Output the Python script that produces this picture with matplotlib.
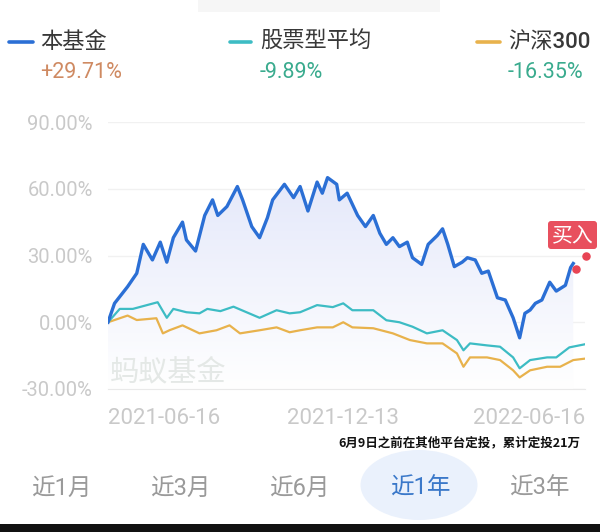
import numpy as np
import matplotlib
matplotlib.use("Agg")
import matplotlib.pyplot as plt
from matplotlib.patches import Ellipse, FancyBboxPatch, Rectangle
from matplotlib.colors import LinearSegmentedColormap

plt.rcParams['font.family'] = ['Roboto', 'Noto Sans CJK SC', 'DejaVu Sans']

# legend
SERIES_NAMES = ["本基金", "股票型平均", "沪深300"]
SERIES_RETURNS = ["+29.71%", "-9.89%", "-16.35%"]
SERIES_COLORS = ["#2b6fd5", "#3dbcc4", "#e8b24c"]
RETURN_COLORS = ["#cf8a62", "#3aab8e", "#3aab8e"]

# days since 2021-06-16, cumulative return in %
FUND_DAYS = [0, 5, 15, 22, 27, 34, 40, 45, 50, 57, 60, 67, 74, 80, 84, 91, 99,
             103, 110, 116, 122, 126, 135, 142, 147, 153, 160, 164, 168, 175,
             177, 183, 191, 197, 203, 208, 213, 218, 223, 229, 233, 240, 245,
             252, 256, 260, 265, 271, 275, 281, 286, 291, 298, 304, 310, 315,
             319, 323, 327, 332, 338, 343, 350, 354, 356]
FUND_VALUES = [0, 8.5, 16, 22, 35, 28, 36, 27, 38, 45, 37, 32, 48, 55, 48, 52,
               61, 55, 43, 38, 47, 55, 62, 56, 61, 50, 63, 58, 65, 62, 55, 58,
               48, 43, 48, 40, 35, 38, 34, 36, 29, 26, 35, 39, 42, 35, 25, 27,
               29, 28, 22, 23, 11, 10, 2, -7, 4, 5.5, 8.5, 10, 18, 14, 16.6,
               24.6, 26.4]

STOCK_DAYS = [0, 9, 19, 38, 45, 50, 60, 70, 76, 86, 96, 106, 116, 129, 139,
              147, 160, 172, 180, 187, 203, 213, 223, 233, 244, 256, 267, 272,
              277, 290, 300, 310, 315, 323, 336, 343, 353, 365]
STOCK_VALUES = [0, 6, 6, 9, 2, 6, 4.5, 4, 6, 5, 7, 4.5, 2, 5.4, 4, 4.5, 7.7,
                6.8, 8.5, 5.4, 5.4, 0.9, 0, -2, -5, -3.6, -8, -12.6, -9.5,
                -10.4, -11, -15.8, -20.7, -17, -15.8, -15.8, -11.3, -9.89]

HS300_DAYS = [0, 15, 22, 37, 42, 47, 57, 70, 83, 93, 101, 116, 129, 139, 147,
              160, 172, 180, 187, 203, 218, 231, 244, 256, 267, 272, 277, 290,
              300, 310, 315, 323, 336, 346, 356, 365]
HS300_VALUES = [0, 3, 1, 1.8, -5, -3.6, -1.4, -5, -3.6, -1.4, -5, -3.6, -2.3,
                -4.5, -3.6, -2.3, -2.3, 0, -2.3, -2.7, -5, -8, -9.5, -9.5, -14,
                -20, -15.8, -15.8, -17, -21.6, -24.8, -21.6, -20, -20, -17,
                -16.35]

BUY_DAYS = [358, 366]
BUY_VALUES = [24, 30]

Y_TICKS = [-30, 0, 30, 60, 90]
X_TICKS = [0, 180, 365]
X_LABELS = ["2021-06-16", "2021-12-13", "2022-06-16"]
TABS = ["近1月", "近3月", "近6月", "近1年", "近3年"]
ACTIVE_TAB = 3
NOTE = "6月9日之前在其他平台定投，累计定投21万"
WATERMARK = "蚂蚁基金"

fig = plt.figure(figsize=(6, 5.32), dpi=100)

# pixel-space overlay for the app chrome
bg = fig.add_axes([0, 0, 1, 1], zorder=0)
bg.set_xlim(0, 600)
bg.set_ylim(532, 0)
bg.axis("off")

bg.add_patch(Rectangle((198, 0), 242, 12, color="#f6f6f6", lw=0))

dash_x = [(9, 33), (230, 251), (477, 500)]
text_x = [40, 260, 508]
for i in range(3):
    bg.plot(dash_x[i], [42, 42], color=SERIES_COLORS[i], lw=2.6,
            solid_capstyle="round")
    bg.text(text_x[i], 42, SERIES_NAMES[i], fontsize=16, color="#383838",
            fontweight="medium", va="center", ha="left")
    bg.text(text_x[i], 72, SERIES_RETURNS[i], fontsize=15.5,
            color=RETURN_COLORS[i], va="center", ha="left")

bg.text(580, 443, NOTE, fontsize=9, color="#111111", fontweight="bold",
        va="center", ha="right", family="Noto Sans CJK SC")

tab_x = [61, 180, 299, 420, 539]
bg.add_patch(Ellipse((419, 485), 117, 70, color="#eaf1fc", lw=0))
for i, t in enumerate(TABS):
    bg.text(tab_x[i], 488, t, fontsize=17,
            color="#3a78c9" if i == ACTIVE_TAB else "#9a9a9a",
            va="center", ha="center")

bg.add_patch(Rectangle((0, 524), 600, 8, color="#111111", lw=0))

# buy tag
bg.add_patch(FancyBboxPatch((548, 221), 49, 28,
                            boxstyle="round,pad=0,rounding_size=3",
                            color="#e8505e", lw=0))
bg.text(572.5, 235, "买入", fontsize=15, color="white", va="center",
        ha="center", family="Noto Sans CJK SC")

# chart
ax = fig.add_axes([108 / 600, 1 - 389 / 532, 477 / 600, 267 / 532], zorder=1)
ax.patch.set_alpha(0)
ax.set_xlim(0, 365)
ax.set_ylim(-30, 90)

# gradient fill under the fund line
poly = ax.fill_between(FUND_DAYS, FUND_VALUES, -30, color="none", lw=0)
grad = np.linspace(0, 1, 256).reshape(-1, 1)
cmap = LinearSegmentedColormap.from_list("f", ["#ffffff", "#e4e8fa"])
img = ax.imshow(grad, cmap=cmap, aspect="auto", origin="lower",
                extent=[0, 365, -30, 66], zorder=1)
img.set_clip_path(poly.get_paths()[0], transform=ax.transData)

ax.plot(HS300_DAYS, HS300_VALUES, color=SERIES_COLORS[2], lw=1.6, zorder=3)
ax.plot(STOCK_DAYS, STOCK_VALUES, color=SERIES_COLORS[1], lw=1.6, zorder=3)
ax.plot(FUND_DAYS, FUND_VALUES, color=SERIES_COLORS[0], lw=2.4, zorder=4,
        solid_joinstyle="round")
ax.scatter(BUY_DAYS, BUY_VALUES, s=26, color="#e84454", zorder=5,
           clip_on=False)

ax.set_yticks(Y_TICKS)
ax.set_yticklabels([f"{v:.2f}%" for v in Y_TICKS])
ax.set_xticks(X_TICKS)
ax.set_xticklabels(X_LABELS)
xl = ax.get_xticklabels()
xl[0].set_ha("left")
xl[-1].set_ha("right")
ax.tick_params(axis="y", length=0, pad=11, labelsize=14.5,
               labelcolor="#c9c9c9")
ax.tick_params(axis="x", length=0, pad=14, labelsize=16,
               labelcolor="#c9c9c9")
ax.yaxis.grid(True, color="#f1f1f1", lw=1)
ax.set_axisbelow(True)
for s in ["top", "right", "left"]:
    ax.spines[s].set_visible(False)
ax.spines["bottom"].set_color("#e9e9e9")

# watermark sits above the fill
fig.text(110 / 600, 1 - 372 / 532, WATERMARK, fontsize=21, color="#e4e8e6",
         va="center", ha="left", family="Noto Sans CJK SC", zorder=2)

fig.savefig("out.png", dpi=100, facecolor="white")
